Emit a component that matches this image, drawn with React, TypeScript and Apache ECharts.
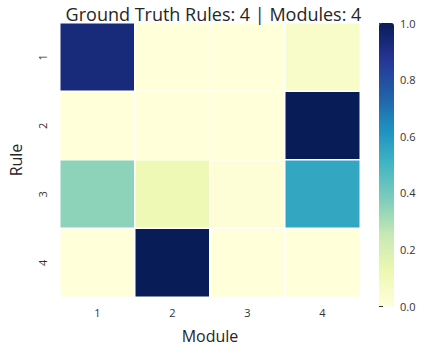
import React, { useEffect, useRef } from "react";
import * as echarts from "echarts";

const modules = ["1", "2", "3", "4"];
const rules = ["1", "2", "3", "4"];
const rule1 = [0.93, 0.0, 0.0, 0.05];
const rule2 = [0.0, 0.0, 0.0, 1.0];
const rule3 = [0.35, 0.11, 0.01, 0.55];
const rule4 = [0.0, 1.0, 0.0, 0.0];
const rows = [rule1, rule2, rule3, rule4];
const colorbarTicks = [0, 0.2, 0.4, 0.6, 0.8, 1.0];
const ylgnbu = ["#ffffd9", "#edf8b1", "#c7e9b4", "#7fcdbb", "#41b6c4", "#1d91c0", "#225ea8", "#253494", "#081d58"];

const FONT = "'Open Sans', 'DejaVu Sans', sans-serif";
const TXT = "#333333";

export default function App() {
  const ref = useRef<HTMLDivElement>(null);
  useEffect(() => {
    if (!ref.current) return;
    const chart = echarts.init(ref.current, undefined, { renderer: "svg" });
    const data: [number, number, number][] = [];
    rows.forEach((row, r) => row.forEach((v, c) => data.push([c, r, v])));
    const gTop = 23, gH = 283;
    chart.setOption({
      animation: false,
      backgroundColor: "#ffffff",
      textStyle: { fontFamily: FONT },
      title: {
        text: "Ground Truth Rules: 4 | Modules: 4",
        left: 208.5,
        top: 0,
        textAlign: "center",
        textStyle: { fontSize: 18, fontWeight: "normal", color: "#262626", fontFamily: FONT },
      },
      grid: [
        { left: 57, top: gTop, width: 303, height: gH },
        { left: 379, top: gTop, width: 15, height: gH },
      ],
      xAxis: [
        {
          type: "category",
          data: modules,
          gridIndex: 0,
          name: "Module",
          nameLocation: "middle",
          nameGap: 31,
          nameTextStyle: { fontSize: 16, color: "#262626" },
          axisLine: { show: false },
          axisTick: { show: false },
          axisLabel: { fontSize: 11, color: TXT, margin: 10 },
          splitLine: { show: false },
        },
        { type: "value", gridIndex: 1, show: false, min: 0, max: 1 },
      ],
      yAxis: [
        {
          type: "category",
          data: rules,
          inverse: true,
          gridIndex: 0,
          name: "Rule",
          nameLocation: "middle",
          nameGap: 36,
          nameTextStyle: { fontSize: 16, color: "#262626" },
          axisLine: { show: false },
          axisTick: { show: false },
          axisLabel: { fontSize: 11, color: TXT, rotate: 90, margin: 12 },
          splitLine: { show: false },
        },
        {
          type: "value",
          gridIndex: 1,
          position: "right",
          min: 0,
          max: 1,
          interval: 0.2,
          axisLine: { show: false },
          axisTick: { show: true, length: 4, lineStyle: { color: TXT, width: 1 } },
          axisLabel: {
            fontSize: 11,
            color: TXT,
            margin: 6,
            formatter: (v: number) => (colorbarTicks.some((t) => Math.abs(t - v) < 1e-9) ? v.toFixed(1) : ""),
          },
          splitLine: { show: false },
        },
      ],
      visualMap: {
        type: "continuous",
        min: 0,
        max: 1,
        seriesIndex: 0,
        calculable: false,
        orient: "vertical",
        left: 379,
        top: gTop,
        itemWidth: 15,
        itemHeight: gH,
        padding: 0,
        text: ["", ""],
        showLabel: false,
        inRange: { color: ylgnbu },
      },
      series: [
        {
          type: "heatmap",
          xAxisIndex: 0,
          yAxisIndex: 0,
          data,
          itemStyle: { borderColor: "#ffffff", borderWidth: 1.5 },
          emphasis: { disabled: true },
        },
        {
          type: "line",
          xAxisIndex: 1,
          yAxisIndex: 1,
          data: [],
        },
      ],
    });
    return () => chart.dispose();
  }, []);
  return <div ref={ref} style={{ width: 422, height: 349, position: "absolute", left: 0, top: 0 }} />;
}
